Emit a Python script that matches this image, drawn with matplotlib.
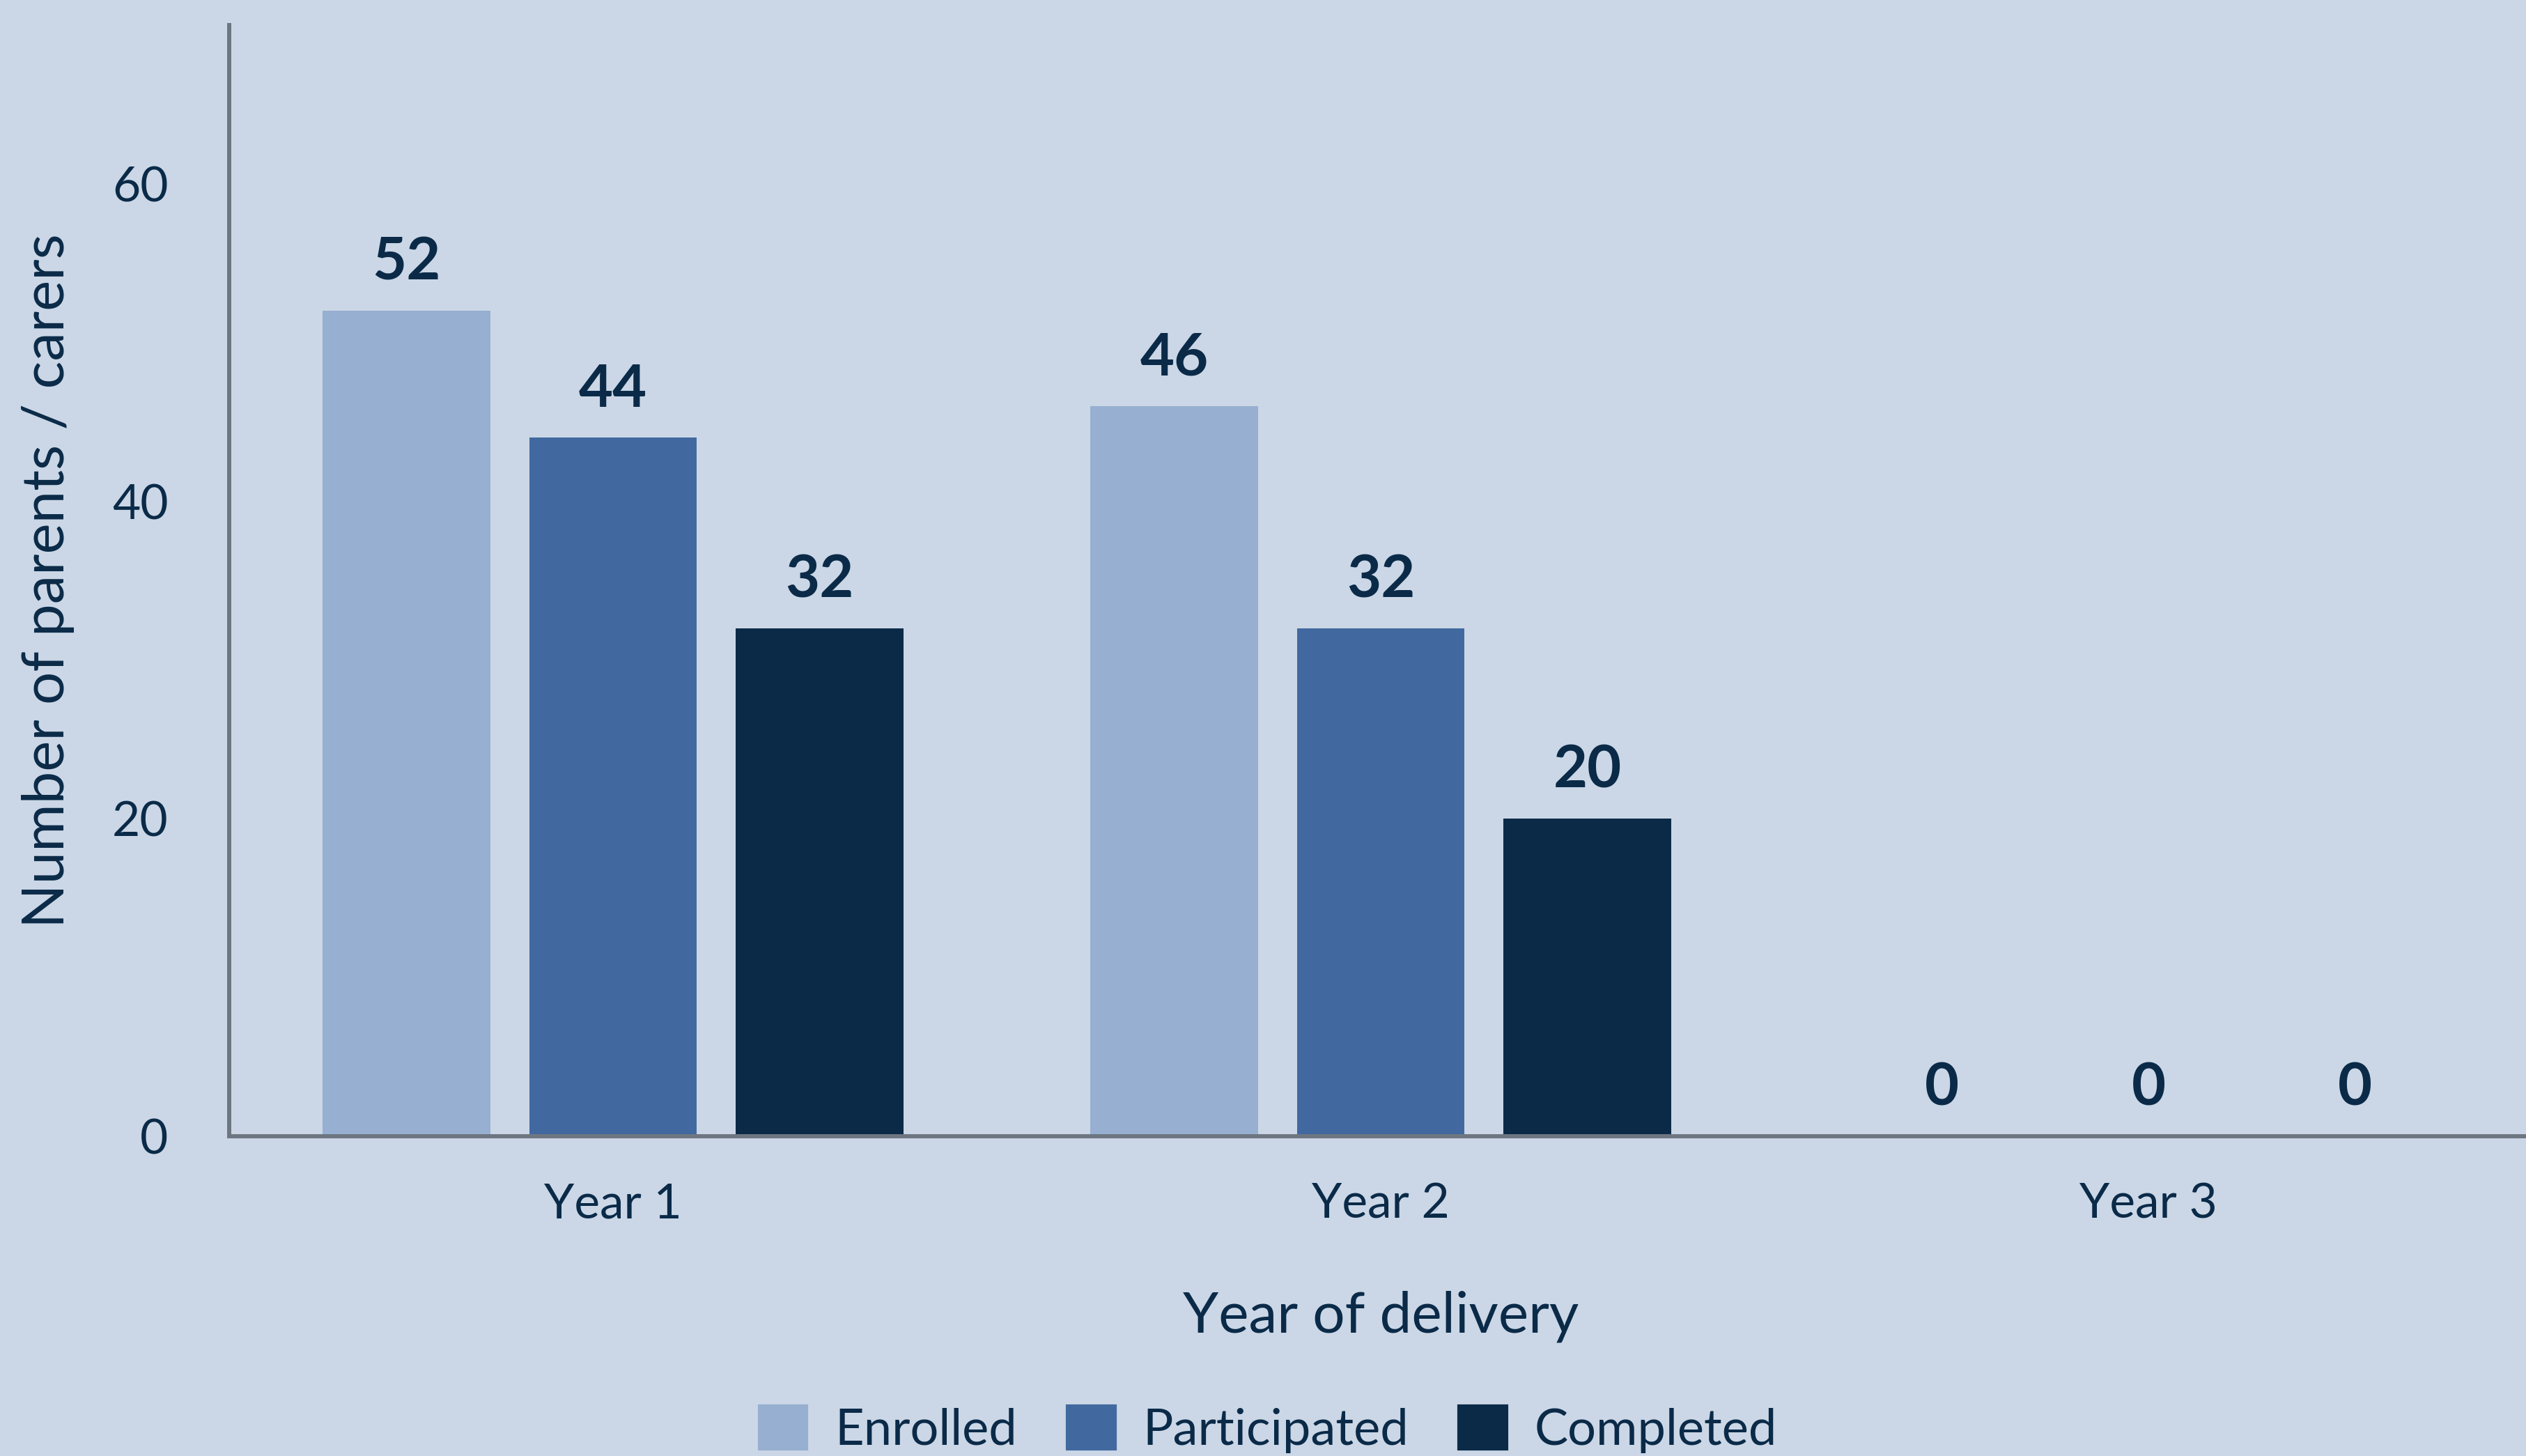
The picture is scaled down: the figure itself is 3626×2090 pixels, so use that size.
import matplotlib
matplotlib.use("Agg")
import matplotlib.pyplot as plt
from matplotlib.patches import Patch
import numpy as np

categories = ["Year 1", "Year 2", "Year 3"]
series_names = ["Enrolled", "Participated", "Completed"]
enrolled = [52, 46, 0]
participated = [44, 32, 0]
completed = [32, 20, 0]
yticks = [0, 20, 40, 60]

BG = "#CBD7E6"
TXT = "#0A2A48"
AX = "#6E7781"
colors = ["#97AFD0", "#4169A0", "#0A2A48"]

plt.rcParams['font.family'] = ['Lato', 'DejaVu Sans']

W, H = 3626, 2090
fig = plt.figure(figsize=(W / 100, H / 100), dpi=100, facecolor=BG)
ax = fig.add_axes([329 / W, 459 / H, 3306 / W, 1595 / H])
ax.set_facecolor(BG)

x = np.arange(len(categories))
width = 0.218
step = 0.269
data = [enrolled, participated, completed]
for i, (name, vals, c) in enumerate(zip(series_names, data, colors)):
    bars = ax.bar(x + (i - 1) * step, vals, width, color=c, label=name, zorder=2)
    ax.bar_label(bars, labels=[str(v) for v in vals], padding=22, fontsize=61,
                 fontweight='bold', color=TXT)

ax.set_xlim(-0.5, 2.5)
ax.set_ylim(0, 70)
ax.set_yticks(yticks)
ax.set_xticks(x)
ax.set_xticklabels(categories)
ax.tick_params(axis='both', length=0, labelsize=50, labelcolor=TXT)
ax.tick_params(axis='y', pad=63)
ax.tick_params(axis='x', pad=48)

for s in ['top', 'right']:
    ax.spines[s].set_visible(False)
for s in ['left', 'bottom']:
    ax.spines[s].set_color(AX)
    ax.spines[s].set_linewidth(4.3)
    ax.spines[s].set_zorder(3)

ax.set_ylabel("Number of parents / carers", fontsize=60, color=TXT)
ax.yaxis.set_label_coords(-0.067, 0.5)
ax.set_xlabel("Year of delivery", fontsize=59, color=TXT)
ax.xaxis.set_label_coords(0.5, -0.139)

handles = [Patch(facecolor=c, edgecolor=c, linewidth=3, joinstyle='round') for c in colors]
fig.legend(handles, series_names, loc='center', bbox_to_anchor=(0.502, 0.0182),
           ncol=3, frameon=False, fontsize=52, labelcolor=TXT,
           handlelength=0.95, handleheight=0.95, handletextpad=0.55, columnspacing=1.0,
           borderpad=0)

fig.savefig("out.png", dpi=100, facecolor=BG)
